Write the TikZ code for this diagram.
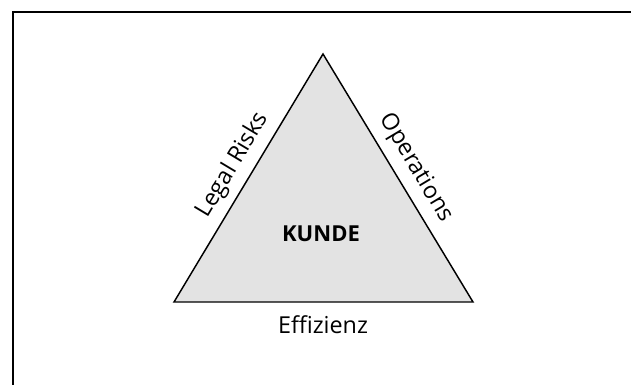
\documentclass[tikz,border=0pt]{standalone}
\usepackage{fontspec}
\setmainfont{Open Sans}
\begin{document}
\begin{tikzpicture}[x=0.75pt,y=-0.75pt,
  frameline/.style={line width=1.2pt,black},
  triangle/.style={line width=1.1pt,black,fill=black!11,line join=miter},
  sidelabel/.style={font=\fontsize{17.5}{20}\selectfont,inner sep=0pt},
  centerlabel/.style={font=\fontsize{16.5}{19}\selectfont\bfseries,inner sep=0pt}]
  \useasboundingbox (0,0) rectangle (631,385);
  % open frame: top and left edges only
  \coordinate (frameTR) at (631,12);
  \coordinate (frameTL) at (13,12);
  \coordinate (frameBL) at (13,385);
  \draw[frameline] (frameTR) -- (frameTL) -- (frameBL);
  % triangle corners
  \coordinate (apex) at (323,54);
  \coordinate (left) at (174,302);
  \coordinate (right) at (473,302);
  \draw[triangle] (apex) -- (right) -- (left) -- cycle;
  % labels
  \node[sidelabel,rotate=59.1] (legal) at (233,165) {Legal Risks};
  \node[sidelabel,rotate=-59.1] (ops) at (416,168) {Operations};
  \node[sidelabel] (eff) at (323,325) {Effizienz};
  \node[centerlabel] (kunde) at (321,234) {KUNDE};
\end{tikzpicture}
\end{document}
